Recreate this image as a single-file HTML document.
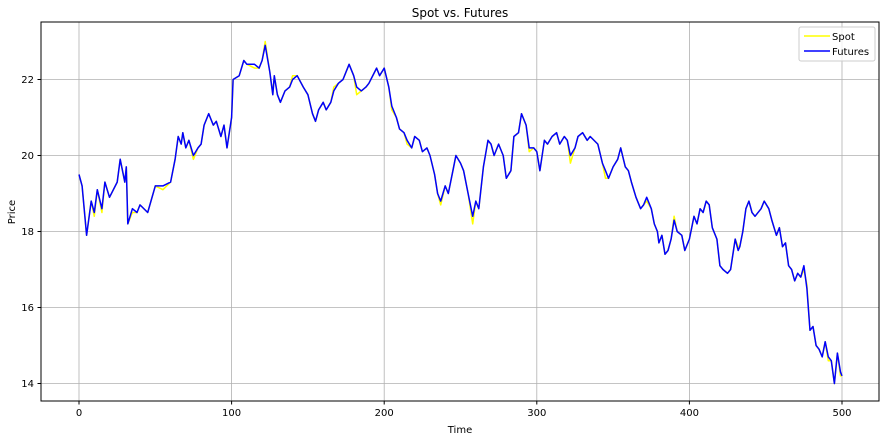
<!DOCTYPE html>
<html><head><meta charset="utf-8"><style>
body{margin:0;background:#fff;font-family:"Liberation Sans","DejaVu Sans",sans-serif;}
svg text{font-family:"DejaVu Sans","Liberation Sans",sans-serif;}
</style></head><body>
<svg id="c" width="888" height="441" xmlns="http://www.w3.org/2000/svg">
<rect width="888" height="441" fill="#fff"/>
<text x="460" y="17" font-size="12" text-anchor="middle">Spot vs. Futures</text>
<g id="grid"></g>
<g id="lines"></g>
<rect x="41" y="22" width="838" height="379" fill="none" stroke="#000" stroke-width="1"/>
<g id="ticks"></g>
<text x="460" y="433" font-size="10" text-anchor="middle">Time</text>
<text x="15" y="212" font-size="10" text-anchor="middle" transform="rotate(-90 15 212)">Price</text>
<g>
<rect x="799" y="27" width="76" height="34" rx="2" fill="#fff" stroke="#ccc" fill-opacity="0.8"/>
<line x1="804" y1="36" x2="830" y2="36" stroke="#ffff00" stroke-width="1.5"/>
<text x="832" y="40" font-size="10">Spot</text>
<line x1="804" y1="51" x2="830" y2="51" stroke="#0000ff" stroke-width="1.5"/>
<text x="832" y="55" font-size="10">Futures</text>
</g>
</svg>
<script>
const times=[0,2,5,8,10,12,15,17,20,25,27,30,31,32,35,38,40,45,50,55,60,63,65,67,68,70,72,75,78,80,82,85,88,90,93,95,97,100,101,105,108,110,115,118,120,122,125,127,128,130,132,135,138,140,143,147,150,153,155,157,160,162,165,167,170,173,177,180,182,185,188,190,195,197,200,203,205,208,210,213,215,218,220,223,225,228,230,233,235,237,240,242,245,247,250,252,255,258,260,262,265,268,270,272,275,278,280,283,285,288,290,293,295,298,300,302,305,307,310,313,315,318,320,322,325,327,330,333,335,340,343,345,347,350,353,355,358,360,362,365,368,370,372,375,377,379,380,382,384,386,388,390,392,395,397,400,403,405,407,409,411,413,415,418,420,422,425,427,430,432,433,435,437,439,441,443,447,449,452,454,457,459,461,463,465,467,469,471,473,475,477,479,481,483,485,487,489,491,493,495,497,499,500];
const futures=[19.5,19.2,17.9,18.8,18.5,19.1,18.6,19.3,18.9,19.3,19.9,19.3,19.7,18.2,18.6,18.5,18.7,18.5,19.2,19.2,19.3,19.9,20.5,20.3,20.6,20.2,20.4,20.0,20.2,20.3,20.8,21.1,20.8,20.9,20.5,20.8,20.2,21.0,22.0,22.1,22.5,22.4,22.4,22.3,22.5,22.9,22.2,21.6,22.1,21.6,21.4,21.7,21.8,22.0,22.1,21.8,21.6,21.1,20.9,21.2,21.4,21.2,21.4,21.7,21.9,22.0,22.4,22.1,21.8,21.7,21.8,21.9,22.3,22.1,22.3,21.8,21.3,21.0,20.7,20.6,20.4,20.2,20.5,20.4,20.1,20.2,20.0,19.5,19.0,18.8,19.2,19.0,19.6,20.0,19.8,19.6,19.0,18.4,18.8,18.6,19.7,20.4,20.3,20.0,20.3,20.0,19.4,19.6,20.5,20.6,21.1,20.8,20.2,20.2,20.1,19.6,20.4,20.3,20.5,20.6,20.3,20.5,20.4,20.0,20.2,20.5,20.6,20.4,20.5,20.3,19.8,19.6,19.4,19.7,19.9,20.2,19.7,19.6,19.3,18.9,18.6,18.7,18.9,18.6,18.2,18.0,17.7,17.9,17.4,17.5,17.8,18.3,18.0,17.9,17.5,17.8,18.4,18.2,18.6,18.5,18.8,18.7,18.1,17.8,17.1,17.0,16.9,17.0,17.8,17.5,17.6,18.0,18.6,18.8,18.5,18.4,18.6,18.8,18.6,18.3,17.9,18.1,17.6,17.7,17.1,17.0,16.7,16.9,16.8,17.1,16.5,15.4,15.5,15.0,14.9,14.7,15.1,14.7,14.6,14.0,14.8,14.3,14.2];
const spot=[19.5,19.2,17.9,18.8,18.4,19.1,18.5,19.3,18.9,19.3,19.9,19.3,19.7,18.2,18.5,18.5,18.7,18.5,19.2,19.1,19.3,19.9,20.5,20.3,20.6,20.2,20.4,19.9,20.2,20.3,20.8,21.1,20.8,20.9,20.5,20.8,20.2,21.0,22.0,22.1,22.5,22.4,22.3,22.3,22.5,23.0,22.2,21.6,22.1,21.6,21.4,21.7,21.8,22.1,22.1,21.8,21.6,21.1,20.9,21.2,21.4,21.2,21.4,21.8,21.9,22.0,22.4,22.1,21.6,21.7,21.8,21.9,22.3,22.1,22.3,21.8,21.2,21.0,20.7,20.6,20.3,20.2,20.5,20.4,20.1,20.2,20.0,19.5,19.0,18.7,19.2,19.0,19.6,20.0,19.8,19.6,19.0,18.2,18.8,18.6,19.7,20.4,20.3,20.0,20.3,20.0,19.4,19.6,20.5,20.6,21.1,20.8,20.1,20.2,20.1,19.6,20.4,20.3,20.5,20.6,20.3,20.5,20.4,19.8,20.2,20.5,20.6,20.4,20.5,20.3,19.8,19.4,19.4,19.7,19.9,20.2,19.7,19.6,19.3,18.9,18.6,18.7,18.8,18.6,18.2,18.0,17.7,17.9,17.4,17.5,17.8,18.4,18.0,17.9,17.5,17.8,18.4,18.2,18.6,18.5,18.8,18.7,18.1,17.8,17.1,17.0,16.9,17.0,17.8,17.6,17.6,18.0,18.6,18.8,18.5,18.4,18.6,18.8,18.6,18.3,17.9,18.1,17.6,17.7,17.1,17.0,16.7,16.9,16.8,17.0,16.6,15.4,15.5,15.0,14.9,14.7,15.1,14.6,14.6,14.0,14.8,14.2,14.2];
const xTicks=[0,100,200,300,400,500];
const yTicks=[14,16,18,20,22];
function X(t){return 79+t*(842-79)/500;}
function Y(v){return 79.5+(22-v)*(383.5-79.5)/8;}
const NS='http://www.w3.org/2000/svg';
const grid=document.getElementById('grid'),ticks=document.getElementById('ticks'),lines=document.getElementById('lines');
function mk(tag,attrs,parent){const e=document.createElementNS(NS,tag);for(const k in attrs)e.setAttribute(k,attrs[k]);parent.appendChild(e);return e;}
xTicks.forEach(t=>{
 const g=mk('line',{x1:X(t),x2:X(t),y1:22,y2:401,stroke:'#b0b0b0','stroke-width':0.8},grid);
 
 
 mk('line',{x1:X(t),x2:X(t),y1:401,y2:404.5,stroke:'#000'},ticks);
 const tx=mk('text',{x:X(t),y:416,'font-size':10,'text-anchor':'middle'},ticks);
 tx.textContent=t;
 
 
});
yTicks.forEach(v=>{
 const g=mk('line',{x1:41,x2:879,y1:Y(v),y2:Y(v),stroke:'#b0b0b0','stroke-width':0.8},grid);
 
 
 mk('line',{x1:37.5,x2:41,y1:Y(v),y2:Y(v),stroke:'#000'},ticks);
 const tx=mk('text',{x:34,y:Y(v)+3.5,'font-size':10,'text-anchor':'end'},ticks);
 tx.textContent=v;
 
 
});
function path(arr){return arr.map((v,i)=>(i?'L':'M')+X(times[i]).toFixed(1)+','+Y(v).toFixed(1)).join('');}
const ps=mk('path',{d:path(spot),fill:'none',stroke:'#ffff00','stroke-width':1.5,'stroke-linejoin':'round'},lines);


const pf=mk('path',{d:path(futures),fill:'none',stroke:'#0000ff','stroke-width':1.5,'stroke-linejoin':'round'},lines);


</script>
</body></html>
